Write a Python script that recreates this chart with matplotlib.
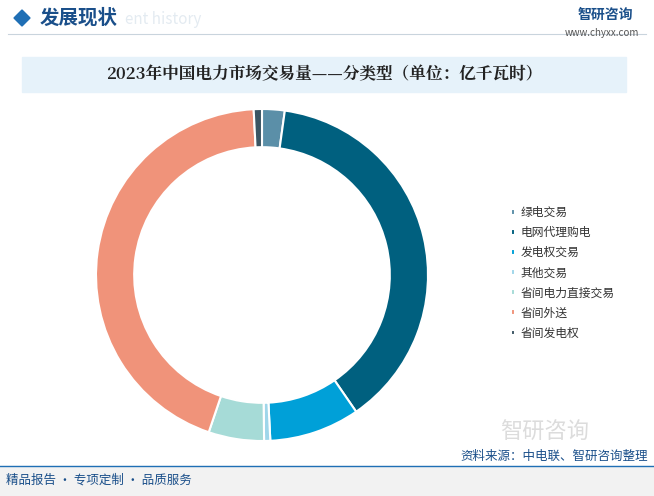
import matplotlib.pyplot as plt
from matplotlib.patches import Rectangle, Polygon

plt.rcParams['font.family'] = ['Noto Sans CJK SC', 'DejaVu Sans']

labels = ["绿电交易", "电网代理购电", "发电权交易", "其他交易", "省间电力直接交易", "省间外送", "省间发电权"]
values = [2.2, 38.2, 8.8, 0.6, 5.4, 44.0, 0.8]
colors = ["#5b8fa8", "#00607f", "#00a0d8", "#9fd6ea", "#a6dbd7", "#f0937a", "#3b5563"]

W, H = 654, 496
fig = plt.figure(figsize=(W / 100, H / 100), dpi=100)
bg = fig.add_axes([0, 0, 1, 1])
bg.set_xlim(0, W)
bg.set_ylim(H, 0)
bg.axis("off")

# header
bg.add_patch(Polygon([[14, 18], [22, 10], [30, 18], [22, 26]], color="#1f6fb5"))
bg.text(40, 18, "发展现状", fontsize=14, fontweight="bold", color="#1a4f8a", va="center")
bg.text(125, 20, "ent history", fontsize=11, color="#dde6ee", va="center", alpha=0.8)
bg.plot([8, 646], [34, 34], color="#c9d4dd", lw=0.8)
bg.text(578, 15, "智研咨询", fontsize=10, color="#1a4f8a", va="center", fontweight="bold")
bg.text(565, 33, "www.chyxx.com", fontsize=7, color="#555555", va="center")

# title band
bg.add_patch(Rectangle((22, 57), 604, 35, color="#e6f2fa"))
bg.text(324, 75, "2023年中国电力市场交易量——分类型（单位：亿千瓦时）", fontsize=12,
        fontweight="bold", color="#222222", ha="center", va="center",
        family=["Noto Serif CJK SC", "Noto Sans CJK SC", "DejaVu Sans"])

# footer
bg.add_patch(Rectangle((0, 466), W, 30, color="#f2f2f2"))
bg.plot([0, W], [466, 466], color="#1f6fb5", lw=1)
bg.text(6, 480, "精品报告 · 专项定制 · 品质服务", fontsize=9, color="#1a4f8a", va="center")
bg.text(648, 463, "资料来源：中电联、智研咨询整理", fontsize=9, color="#1a4f8a", va="bottom", ha="right")
bg.text(500, 432, "智研咨询", fontsize=16, color="#dcdcdc", va="center")

ax = fig.add_axes([(262 - 166) / W, 1 - (275 + 166) / H, 332 / W, 332 / H])
wedges, _ = ax.pie(values, colors=colors, startangle=90, counterclock=False, radius=1,
                   wedgeprops=dict(width=0.23, edgecolor="white", linewidth=1.5))
ax.set_xlim(-1, 1)
ax.set_ylim(-1, 1)
ax.set_aspect("equal")

lax = fig.add_axes([0.765, 0.3, 0.22, 0.3])
lax.axis("off")
lax.legend(wedges, labels, loc="center left", frameon=False, fontsize=8.5,
           handlelength=0.35, handleheight=0.35, handletextpad=0.5, labelspacing=0.6,
           labelcolor="#333333")

fig.savefig("out.png", dpi=100)
